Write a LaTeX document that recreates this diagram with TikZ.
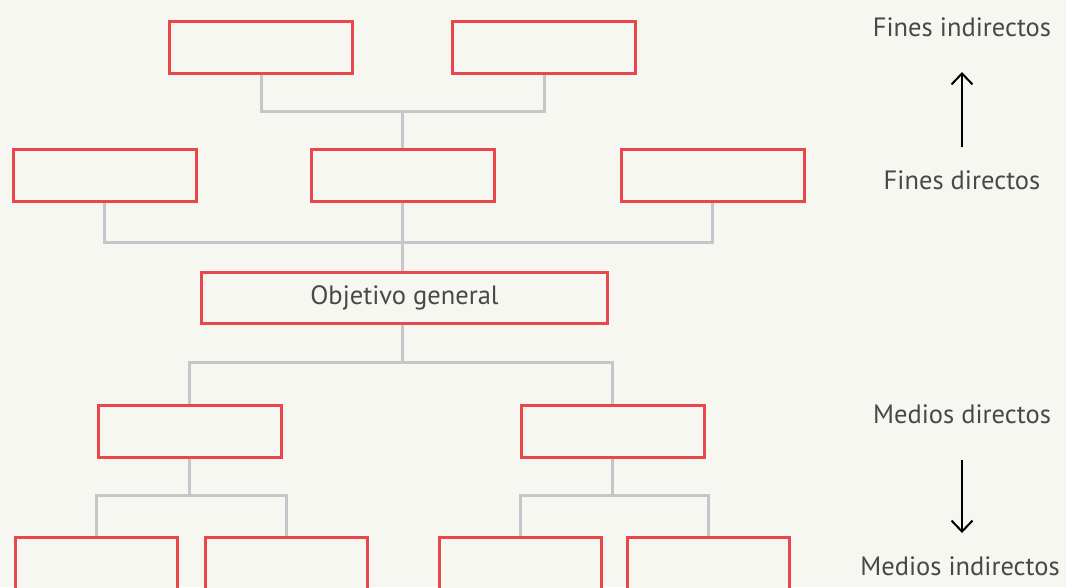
\documentclass[tikz,border=0pt]{standalone}
\usepackage{fontspec}
\setmainfont{PT Sans}
\usetikzlibrary{arrows.meta}
\definecolor{bgc}{HTML}{F7F7F2}
\definecolor{boxred}{HTML}{E8474C}
\definecolor{conngray}{HTML}{C5C5CA}
\definecolor{txt}{HTML}{484848}
\tikzset{
  box/.style={draw=boxred, line width=3pt, fill=bgc, inner sep=0pt, minimum width=183pt, minimum height=52pt, font=\fontsize{26.5}{30}\selectfont, text=txt},
  smallbox/.style={box, minimum width=162pt},
  conn/.style={draw=conngray, line width=3pt},
  lab/.style={font=\fontsize{26.5}{30}\selectfont, text=txt, inner sep=0pt},
  dirarrow/.style={draw=black, line width=2pt, -{Straight Barb[length=11pt,width=21pt,line width=2pt]}}
}
\begin{document}
\begin{tikzpicture}[x=1pt,y=-1pt]
\useasboundingbox[fill=bgc] (0,0) rectangle (1066,587);
\clip (0,0) rectangle (1066,587);
% connectors junctions
\coordinate (j1) at (402.5,111);
\coordinate (j2) at (402.5,242);
\coordinate (j3) at (402.5,362);
\coordinate (j4) at (189.5,495);
\coordinate (j5) at (612.5,495);
% row 1
\node[box] (a1) at (261,47.5) {};
\node[box] (a2) at (544,47.5) {};
% row 2
\node[box] (b1) at (104.5,175.5) {};
\node[box] (b2) at (402.5,175.5) {};
\node[box] (b3) at (712.5,175.5) {};
% objective
\node[box, minimum width=406pt, minimum height=51pt] (obj) at (404.5,298) {\raisebox{-4pt}{Objetivo general}};
% row 4
\node[box] (c1) at (189.5,431) {};
\node[box] (c2) at (612.5,431) {};
% row 5
\node[smallbox] (d1) at (96.5,563) {};
\node[smallbox] (d2) at (286,563) {};
\node[smallbox] (d3) at (520,563) {};
\node[smallbox] (d4) at (708,563) {};
% connectors
\draw[conn] (a1.south) |- (j1) -| (a2.south);
\draw[conn] (j1) -- (b2.north);
\draw[conn] (b1.south) |- (j2) -| (b3.south);
\draw[conn] (b2.south) -- (j2) -- (j2 |- obj.north);
\draw[conn] (j3 |- obj.south) -- (j3);
\draw[conn] (c1.north) |- (j3) -| (c2.north);
\draw[conn] (c1.south) -- (j4);
\draw[conn] (d1.north) |- (j4) -| (d2.north);
\draw[conn] (c2.south) -- (j5);
\draw[conn] (d3.north) |- (j5) -| (d4.north);
% right labels
\node[lab] (fi) at (962,27) {Fines indirectos};
\node[lab] (fd) at (962,180) {Fines directos};
\node[lab] (md) at (962,414) {Medios directos};
\node[lab] (mi) at (960,566) {Medios indirectos};
\coordinate (up0) at (962,147);
\coordinate (up1) at (962,72);
\coordinate (dn0) at (962,460);
\coordinate (dn1) at (962,533);
\draw[dirarrow] (up0) -- (up1);
\draw[dirarrow] (dn0) -- (dn1);
\end{tikzpicture}
\end{document}
